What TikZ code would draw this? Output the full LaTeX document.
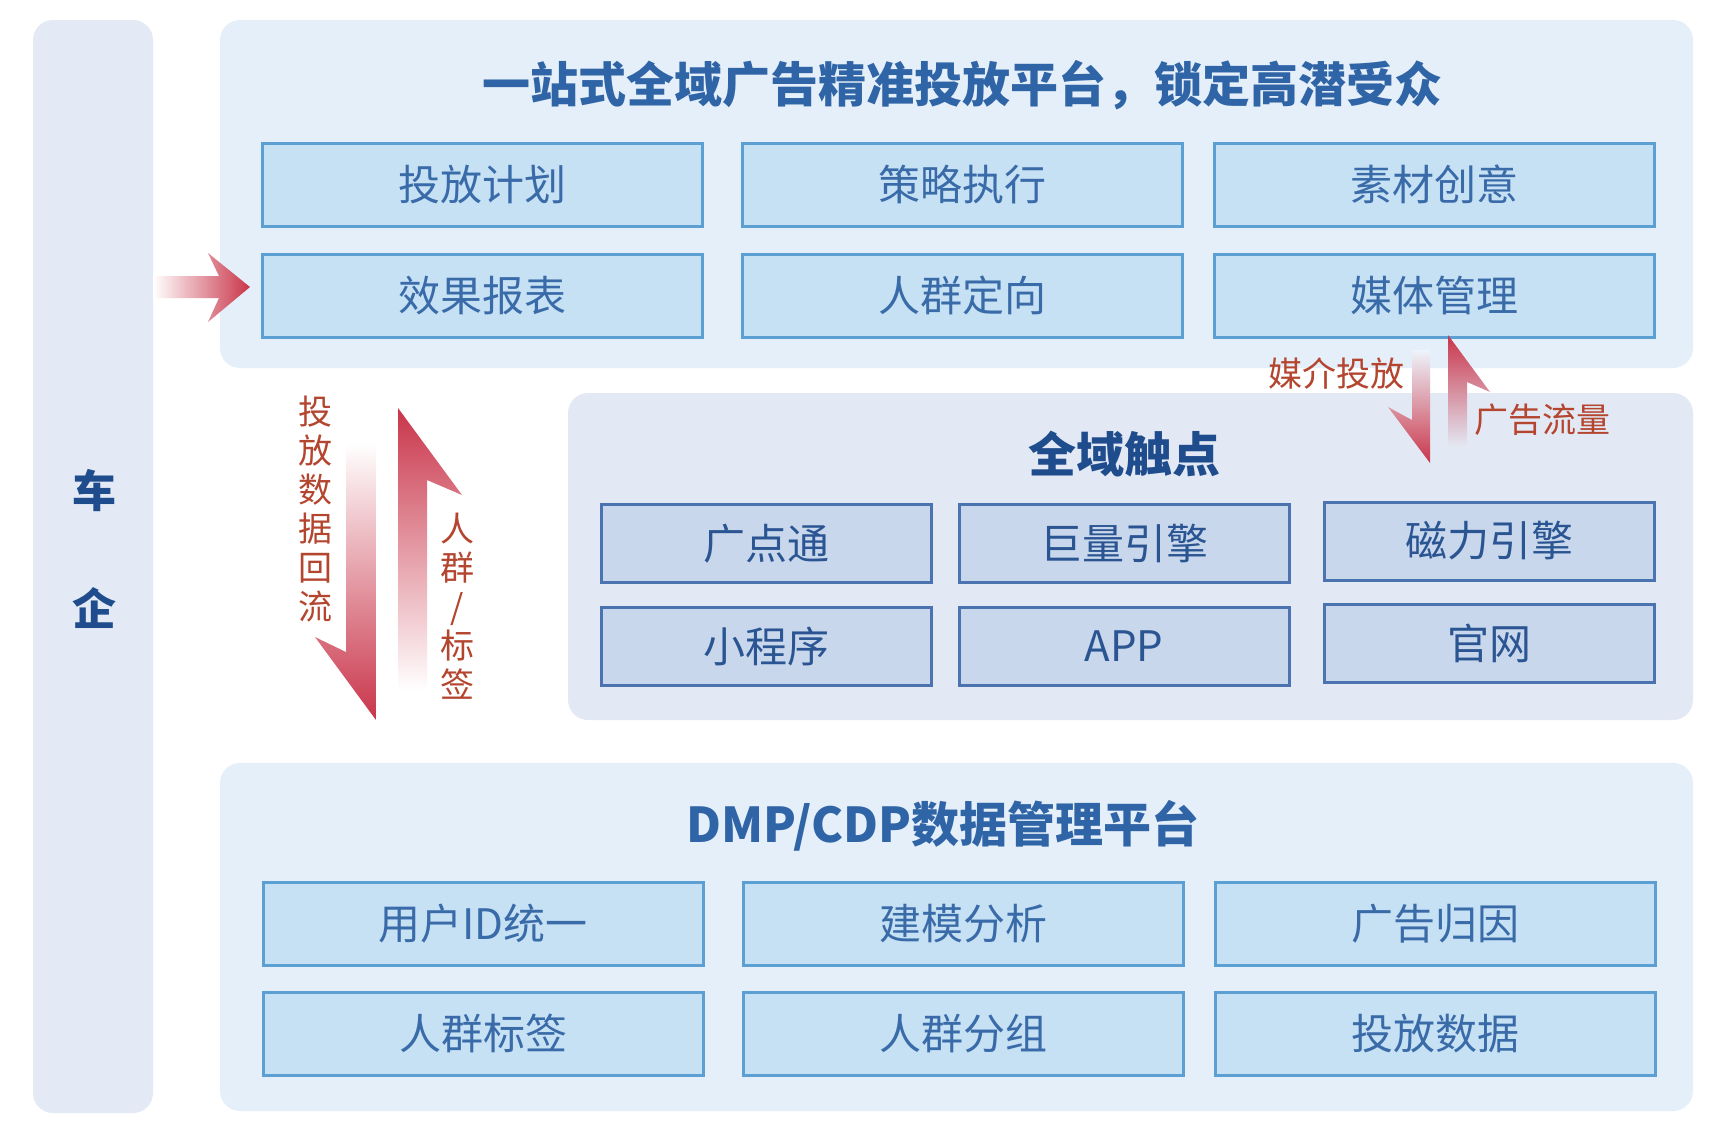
\documentclass[tikz,border=0pt]{standalone}
\usepackage{fontspec}
\setmainfont{Noto Sans CJK SC}
\usetikzlibrary{shadings}
\definecolor{pleft}{HTML}{E3EAF5}
\definecolor{ptop}{HTML}{E5EFF9}
\definecolor{pmid}{HTML}{E3E9F4}
\definecolor{tfill}{HTML}{C6E0F4}
\definecolor{tborder}{HTML}{5B9FD3}
\definecolor{ttext}{HTML}{3A6BA9}
\definecolor{mfill}{HTML}{C8D7EB}
\definecolor{mborder}{HTML}{4A73B0}
\definecolor{mtext}{HTML}{2A5592}
\definecolor{titleblue}{HTML}{2F64A6}
\definecolor{darkblue}{HTML}{1F4C8C}
\definecolor{labred}{HTML}{B4452F}
\definecolor{arrred}{HTML}{C9354A}
\tikzset{
  panel/.style={rounded corners=10pt, draw=none},
  tbox/.style={draw=tborder, fill=tfill, line width=1.5pt, text=ttext,
    font=\fontsize{21pt}{24pt}\selectfont, minimum width=220pt, minimum height=41.5pt, inner sep=0pt},
  mbox/.style={draw=mborder, fill=mfill, line width=1.5pt, text=mtext,
    font=\fontsize{21pt}{24pt}\selectfont, minimum width=165pt, minimum height=39pt, inner sep=0pt},
  ptitle/.style={font=\bfseries\fontsize{24pt}{28pt}\selectfont, text=titleblue},
  vlabel/.style={font=\fontsize{17pt}{19.5pt}\selectfont, text=labred, align=center, inner sep=0pt},
  hlabel/.style={font=\fontsize{17pt}{19.5pt}\selectfont, text=labred, inner sep=0pt},
  sidetext/.style={font=\bfseries\fontsize{22pt}{26pt}\selectfont, text=darkblue},
}
\begin{document}
\begin{tikzpicture}[x=0.5pt, y=-0.5pt]
\useasboundingbox (0,0) rectangle (1736,1136);
\fill[white] (0,0) rectangle (1736,1136);

% panels
\fill[panel, pleft] (33,20) rectangle (153,1113);
\fill[panel, ptop] (220,20) rectangle (1693,368);
\fill[panel, pmid] (568,393) rectangle (1693,720);
\fill[panel, ptop] (220,763) rectangle (1693,1111);

% side text
\node[sidetext] (che) at (94,491) {车};
\node[sidetext] (qi) at (94,608) {企};

% top panel
\node[ptitle] (toptitle) at (962,85) {一站式全域广告精准投放平台，锁定高潜受众};
\node[tbox] (t1) at (482,184.5) {投放计划};
\node[tbox] (t2) at (962,184.5) {策略执行};
\node[tbox] (t3) at (1434.5,184.5) {素材创意};
\node[tbox] (t4) at (482,295.5) {效果报表};
\node[tbox] (t5) at (962,295.5) {人群定向};
\node[tbox] (t6) at (1434.5,295.5) {媒体管理};

% middle panel
\node[ptitle, text=darkblue] (midtitle) at (1124,454) {全域触点};
\node[mbox] (m1) at (766,543.5) {广点通};
\node[mbox] (m2) at (1124,543.5) {巨量引擎};
\node[mbox] (m3) at (1489,541) {磁力引擎};
\node[mbox] (m4) at (766,646) {小程序};
\node[mbox] (m5) at (1124,646) {APP};
\node[mbox] (m6) at (1489,643.5) {官网};

% bottom panel
\node[ptitle] (bottitle) at (943,826) {DMP/CDP数据管理平台};
\node[tbox] (b1) at (483,923.5) {用户ID统一};
\node[tbox] (b2) at (963,923.5) {建模分析};
\node[tbox] (b3) at (1435,923.5) {广告归因};
\node[tbox] (b4) at (483,1033.5) {人群标签};
\node[tbox] (b5) at (963,1033.5) {人群分组};
\node[tbox] (b6) at (1435,1033.5) {投放数据};

% horizontal arrow into 效果报表
\shade[left color=white, right color=arrred]
  (153,276) -- (219,276) -- (208,253) -- (250,287) -- (208,322) -- (219,298) -- (153,298) -- cycle;

% left down arrow (投放数据回流)
\shade[top color=white, bottom color=arrred]
  (346,443) -- (346,652) -- (315,637) -- (376,720) -- (376,443) -- cycle;
% left up arrow (人群/标签)
\shade[top color=arrred, bottom color=white]
  (398,408) -- (462,495) -- (427,480) -- (427,690) -- (398,690) -- cycle;
\node[vlabel] (lab1) at (315,509) {投\\放\\数\\据\\回\\流};
\node[vlabel] (lab2) at (457,606) {人\\群\\/\\标\\签};

% right down arrow (媒介投放)
\shade[top color=ptop!70!white, bottom color=arrred]
  (1412,350) -- (1412,420) -- (1388,407) -- (1430,463) -- (1430,350) -- cycle;
% right up arrow (广告流量)
\shade[top color=arrred, bottom color=pmid]
  (1448,335) -- (1490,392) -- (1467,382) -- (1467,447) -- (1448,447) -- cycle;
\node[hlabel] (lab3) at (1336,373) {媒介投放};
\node[hlabel] (lab4) at (1542,420) {广告流量};
\end{tikzpicture}
\end{document}
